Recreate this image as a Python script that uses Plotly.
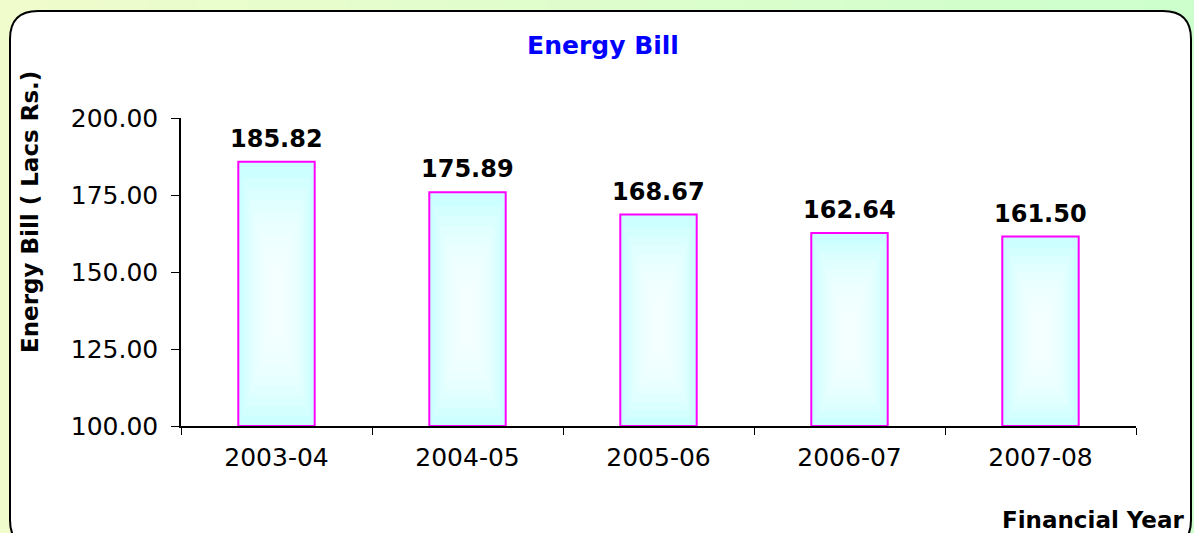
"""Energy Bill bar chart recreated with Plotly."""

import plotly.graph_objects as go

years = ['2003-04', '2004-05', '2005-06', '2006-07', '2007-08']
bill = [185.82, 175.89, 168.67, 162.64, 161.50]
y_ticks = [100, 125, 150, 175, 200]

FONT = 'Verdana, DejaVu Sans, sans-serif'
BAR_W = 0.4

# plot area in pixels (used to place shapes in paper coords)
W, H = 1194, 533
L, R, T, B = 181, 1136, 118, 426


def px(x):
    return (x - L) / (R - L)


def py(y):
    return (B - y) / (B - T)


fig = go.Figure()

# main bars
fig.add_trace(go.Bar(
    x=years,
    y=[v - 100 for v in bill],
    base=100,
    width=BAR_W,
    marker={'color': '#ccffff', 'line': {'color': '#ff00ff', 'width': 2}},
    hoverinfo='skip',
))

# soft white glow inside the bars (fake gradient)
n_glow = 9
for k in range(n_glow):
    t = k / (n_glow - 1)
    frac = 0.88 - 0.72 * t
    lo, hi = 0.04 + 0.30 * t, 0.94 - 0.34 * t
    fig.add_trace(go.Bar(
        x=years,
        y=[(v - 100) * (hi - lo) for v in bill],
        base=[100 + (v - 100) * lo for v in bill],
        width=BAR_W * frac,
        marker={'color': 'rgba(255,255,255,0.17)', 'line': {'width': 0}},
        hoverinfo='skip',
    ))

shapes = []

# background: yellow-green to green, left to right
n = 24
c0, c1 = (240, 252, 204), (204, 255, 204)
for i in range(n):
    t = i / (n - 1)
    col = tuple(round(a + (b - a) * t) for a, b in zip(c0, c1))
    shapes.append({
        'type': 'rect', 'xref': 'paper', 'yref': 'paper',
        'x0': px(W * i / n - 1), 'x1': px(W * (i + 1) / n + 1),
        'y0': py(H + 2), 'y1': py(-2),
        'fillcolor': f'rgb{col}', 'line': {'width': 0}, 'layer': 'below',
    })

# rounded white panel
x0, x1, y0, y1 = px(10), px(1191), py(548), py(11)
rx, ry = 28 / (R - L), 28 / (B - T)
panel = (
    f'M {x0 + rx},{y1} L {x1 - rx},{y1} Q {x1},{y1} {x1},{y1 - ry} '
    f'L {x1},{y0 + ry} Q {x1},{y0} {x1 - rx},{y0} '
    f'L {x0 + rx},{y0} Q {x0},{y0} {x0},{y0 + ry} '
    f'L {x0},{y1 - ry} Q {x0},{y1} {x0 + rx},{y1} Z'
)
shapes.append({
    'type': 'path', 'path': panel, 'xref': 'paper', 'yref': 'paper',
    'fillcolor': 'white', 'line': {'color': 'black', 'width': 2},
    'layer': 'below',
})

# value labels above bars
value_labels = [{
    'x': yr, 'y': v, 'xref': 'x', 'yref': 'y',
    'text': f'{v:.2f}', 'showarrow': False,
    'yanchor': 'bottom', 'yshift': 7,
    'font': {'size': 24, 'weight': 'bold', 'color': 'black'},
} for yr, v in zip(years, bill)]

fig.update_layout(
    width=W,
    height=H,
    margin={'l': L, 'r': W - R, 't': T, 'b': H - B},
    paper_bgcolor='#e4fdcc',
    plot_bgcolor='rgba(0,0,0,0)',
    barmode='overlay',
    showlegend=False,
    font={'family': FONT, 'color': 'black'},
    shapes=shapes,
    title={
        'text': 'Energy Bill', 'x': 603 / W, 'xanchor': 'center',
        'y': 1 - 45 / H, 'yanchor': 'middle',
        'font': {'family': FONT, 'size': 25, 'color': '#0000ff', 'weight': 'bold'},
    },
    xaxis={
        'type': 'category',
        'showline': True, 'linecolor': 'black', 'linewidth': 1.5,
        'ticks': 'outside', 'ticklen': 7, 'tickcolor': 'black',
        'tickson': 'boundaries', 'showgrid': False,
        'tickfont': {'size': 25}, 'ticklabelstandoff': 8,
    },
    yaxis={
        'range': [100, 200], 'tickvals': y_ticks, 'tickformat': '.2f',
        'showline': True, 'linecolor': 'black', 'linewidth': 1.5,
        'ticks': 'outside', 'ticklen': 8, 'tickcolor': 'black',
        'showgrid': False, 'zeroline': False,
        'tickfont': {'size': 25}, 'ticklabelstandoff': 8,
    },
    annotations=value_labels + [
        {
            'text': 'Energy Bill ( Lacs Rs.)', 'xref': 'paper', 'yref': 'paper',
            'x': px(30), 'y': py(212), 'textangle': -90,
            'xanchor': 'center', 'yanchor': 'middle', 'showarrow': False,
            'font': {'size': 23, 'weight': 'bold'},
        },
        {
            'text': 'Financial Year', 'xref': 'paper', 'yref': 'paper',
            'x': px(1186), 'y': py(520), 'xanchor': 'right', 'yanchor': 'middle',
            'showarrow': False, 'font': {'size': 23, 'weight': 'bold'},
        },
    ],
)

fig.write_html(
    'out.html',
    config={'displayModeBar': False},
    post_script="document.body.style.margin='0';",
)
